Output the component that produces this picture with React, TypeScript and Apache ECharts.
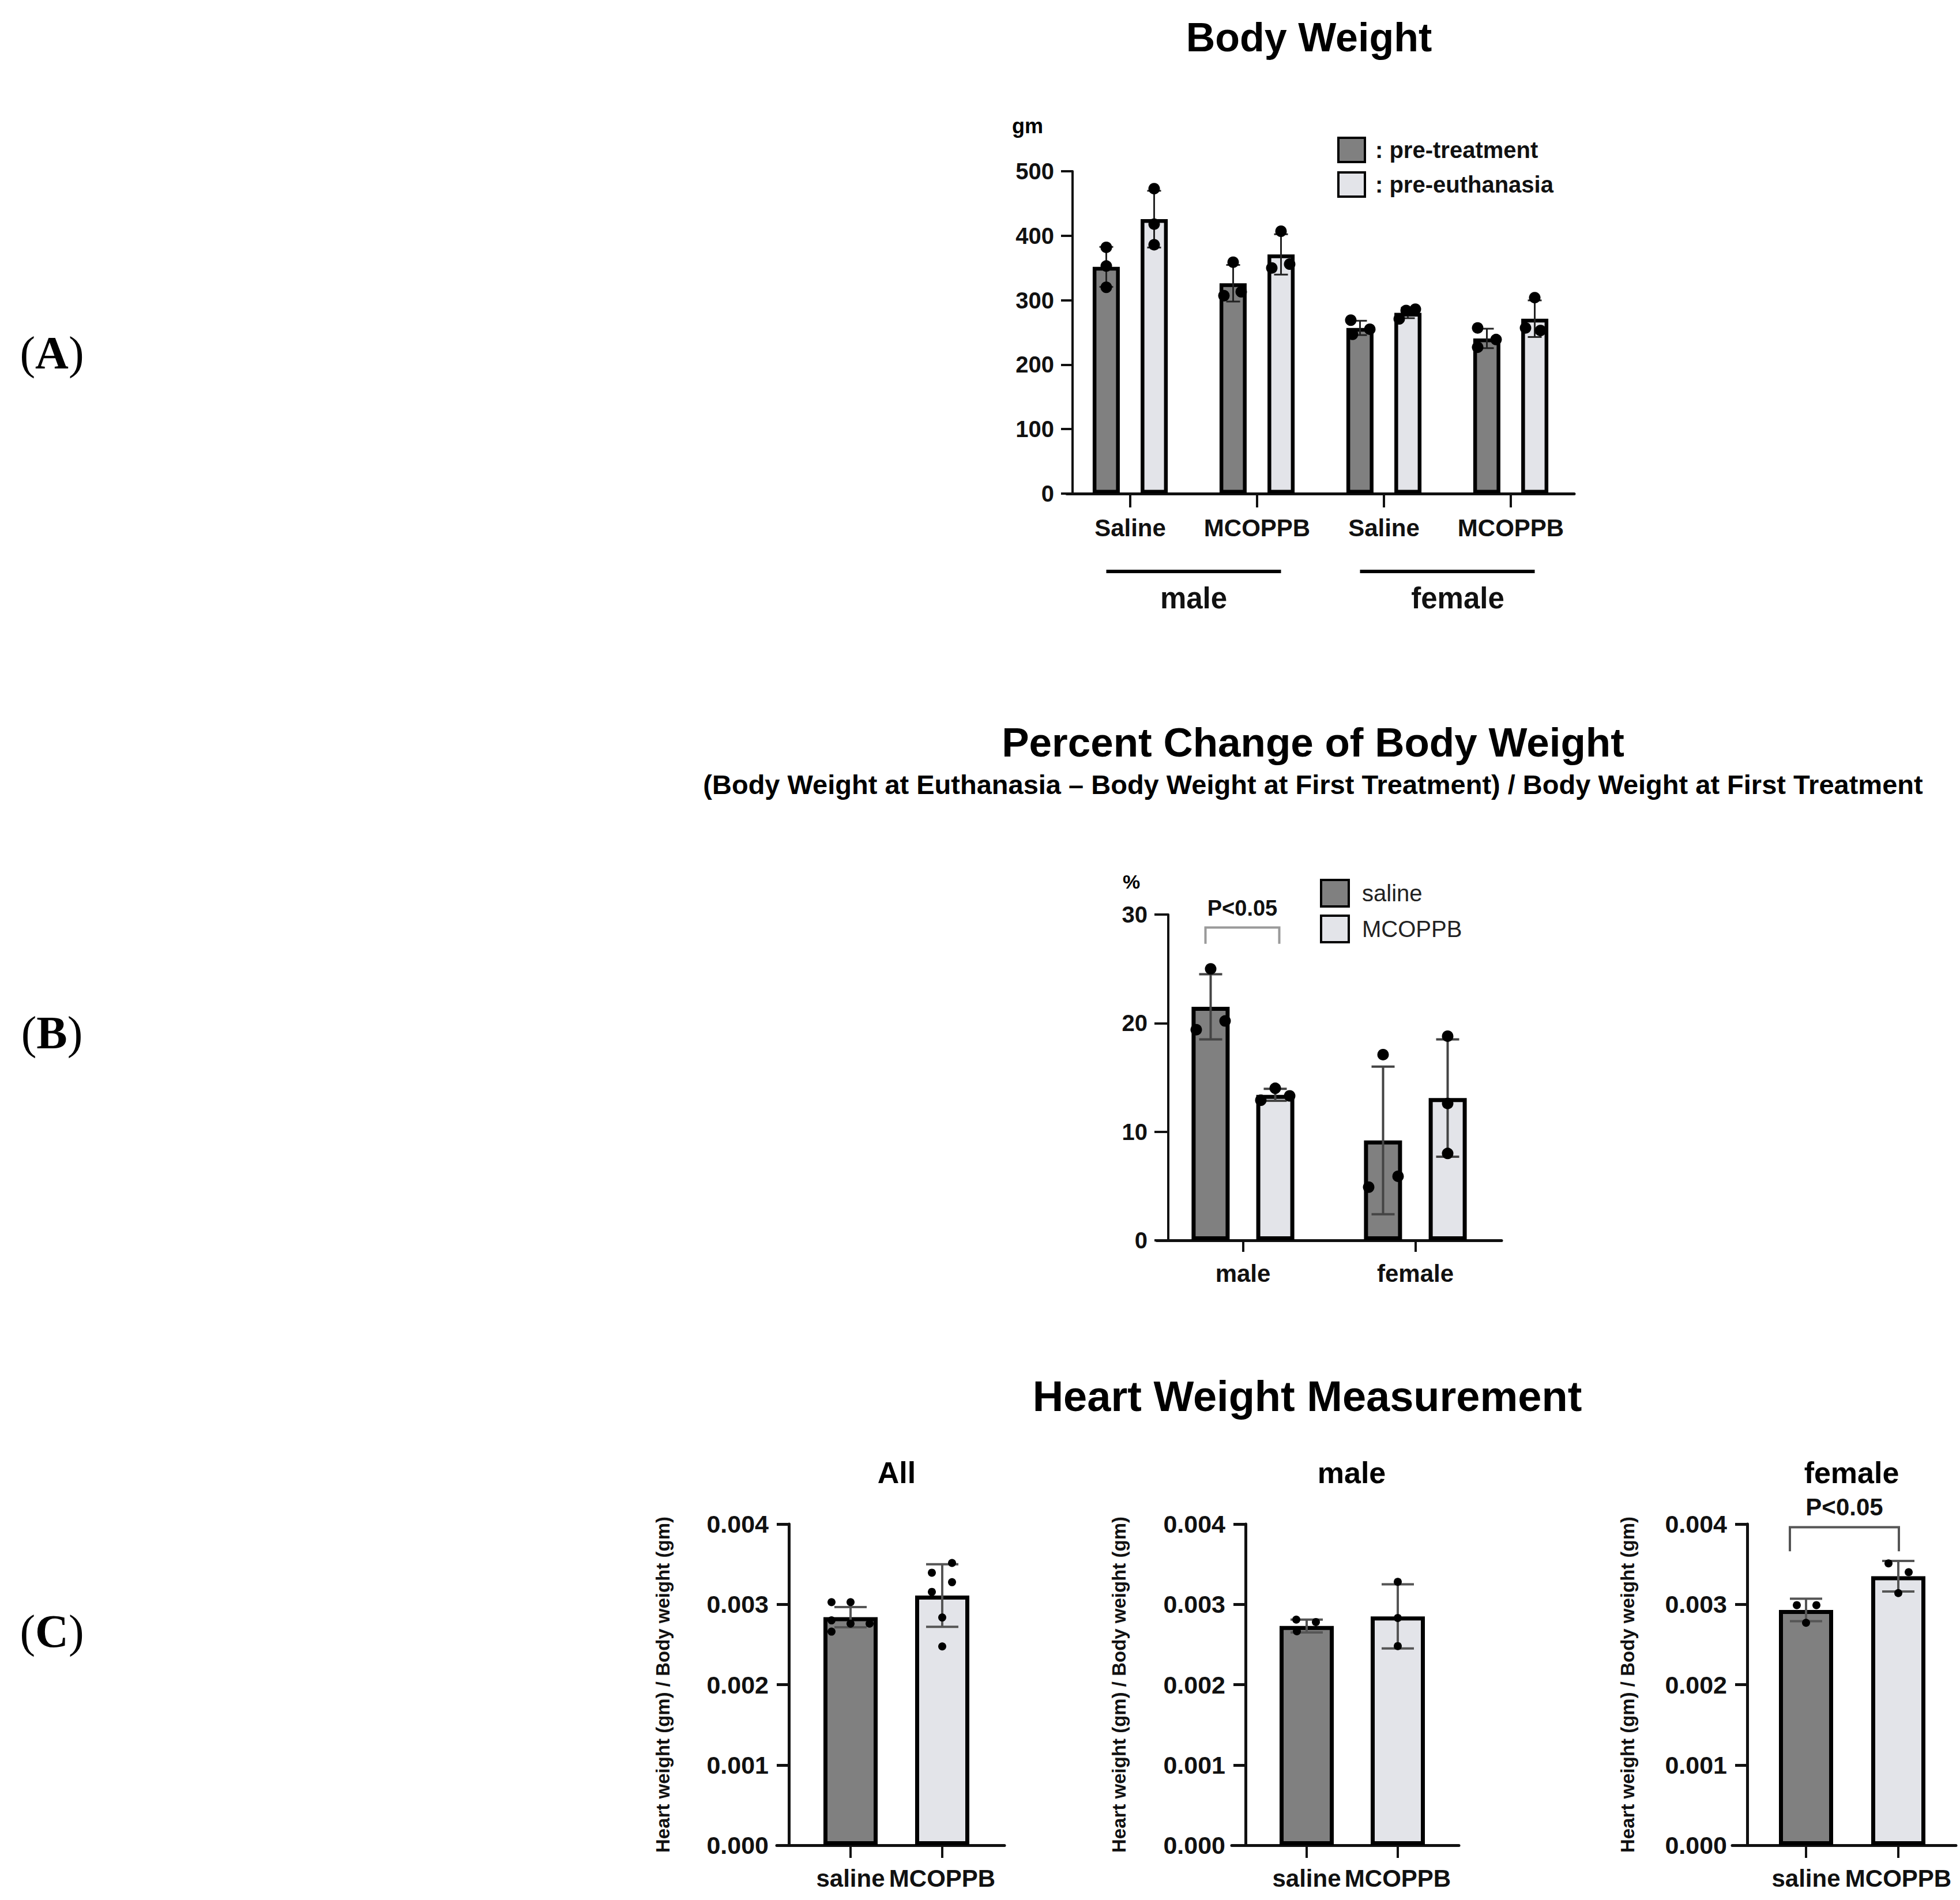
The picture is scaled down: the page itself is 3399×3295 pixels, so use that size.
import React, { useEffect, useRef } from "react";
import * as echarts from "echarts";

// ---------------- DATA ----------------
// Panel A: Body Weight (gm)
const A_CATEGORIES = ["Saline", "MCOPPB", "Saline", "MCOPPB"];
const A_GROUP_LABELS = ["male", "female"];
const A_GROUP_SPANS = [[0, 1], [2, 3]];
const A_SERIES_NAMES = ["pre-treatment", "pre-euthanasia"];
const A_Y_MAX = 500;
const A_Y_STEP = 100;
const A_PRE_MEAN = [351.7, 326.3, 257.0, 240.7];
const A_PRE_SD = [31.0, 28.4, 11.1, 15.1];
const A_PRE_POINTS = [[382, 353, 320], [359, 307, 313], [269, 247, 255], [257, 227, 239]];
const A_EUTH_MEAN = [425.7, 371.0, 280.3, 271.3];
const A_EUTH_SD = [44.0, 31.3, 8.2, 28.4];
const A_EUTH_POINTS = [[473, 418, 386], [407, 350, 356], [271, 284, 286], [304, 257, 253]];

// Panel B: Percent change of body weight (%)
const B_CATEGORIES = ["male", "female"];
const B_SERIES_NAMES = ["saline", "MCOPPB"];
const B_Y_MAX = 30;
const B_Y_STEP = 10;
const B_SALINE_MEAN = [21.5, 9.2];
const B_SALINE_SD = [3.0, 6.8];
const B_SALINE_POINTS = [[25.0, 19.4, 20.2], [17.1, 4.9, 5.9]];
const B_MCOPPB_MEAN = [13.4, 13.1];
const B_MCOPPB_SD = [0.55, 5.4];
const B_MCOPPB_POINTS = [[14.0, 12.9, 13.3], [18.8, 12.6, 8.0]];
const SIG_LABEL = "P<0.05";

// Panel C: Heart weight / body weight
const C_TITLES = ["All", "male", "female"];
const C_CATEGORIES = ["saline", "MCOPPB"];
const C_Y_NAME = "Heart weight (gm) / Body weight (gm)";
const C_Y_MAX = 0.004;
const C_Y_STEP = 0.001;
const C_ALL_MEAN = [0.00284, 0.00311];
const C_ALL_SD = [0.000125, 0.00039];
const C_ALL_SALINE_POINTS = [0.003027, 0.003027, 0.0028, 0.00276, 0.00276, 0.00266];
const C_ALL_MCOPPB_POINTS = [0.003515, 0.003394, 0.003276, 0.003155, 0.002836, 0.002476];
const C_MALE_MEAN = [0.00273, 0.00285];
const C_MALE_SD = [0.00008, 0.0004];
const C_MALE_SALINE_POINTS = [0.00281, 0.00278, 0.002665];
const C_MALE_MCOPPB_POINTS = [0.00328, 0.00283, 0.00248];
const C_FEMALE_MEAN = [0.00293, 0.00335];
const C_FEMALE_SD = [0.00014, 0.00019];
const C_FEMALE_SALINE_POINTS = [0.00299, 0.00299, 0.00277];
const C_FEMALE_MCOPPB_POINTS = [0.00351, 0.0034, 0.00314];

// ---------------- STYLE ----------------
const FONT = "'Liberation Sans', Arial, Helvetica, sans-serif";
const SERIF = "'Liberation Serif', 'Times New Roman', serif";
const DARK = "#808080";
const LIGHT = "#e3e4e9";
const INK = "#111111";

// horizontal jitter of individual dots (px)
const A_PRE_JITTER = [[0, 0, 0], [0, -16, 14], [-16, -13, 17], [-16, -16, 16]];
const A_EUTH_JITTER = [[0, 0, 0], [0, -16, 15], [-15, -3, 13], [0, -16, 10]];
const B_SALINE_JITTER = [[0, -25, 25], [0, -25, 26]];
const B_MCOPPB_JITTER = [[0, -25, 25], [0, 0, 0]];
const C_JITTER = [
  [[-33, 0, -33, 0, 33, -33], [17, -18, 17, -18, 0, 0]],
  [[-18, 16, -17], [0, 0, 0]],
  [[-16, 18, 0], [-17, 18, 0]],
];

function errorBarSeries(xi: number, yi: number, means: number[], sds: number[], offset: number, capHalf: number, color: string, width: number) {
  return {
    type: "custom",
    xAxisIndex: xi,
    yAxisIndex: yi,
    clip: false,
    z: 3,
    silent: true,
    data: means.map((m, i) => [i, m, sds[i]]),
    encode: { x: 0, y: 1 },
    renderItem: (params: any, api: any) => {
      const ci = api.value(0);
      const m = api.value(1);
      const sd = api.value(2);
      const pt = api.coord([ci, m + sd]);
      const pb = api.coord([ci, m - sd]);
      const x = pt[0] + offset;
      const st = { stroke: color, lineWidth: width };
      return {
        type: "group",
        children: [
          { type: "line", shape: { x1: x, y1: pt[1], x2: x, y2: pb[1] }, style: st },
          { type: "line", shape: { x1: x - capHalf, y1: pt[1], x2: x + capHalf, y2: pt[1] }, style: st },
          { type: "line", shape: { x1: x - capHalf, y1: pb[1], x2: x + capHalf, y2: pb[1] }, style: st },
        ],
      };
    },
  };
}

function dotSeries(xi: number, yi: number, points: number[][], offsets: number[], jitter: number[][], size: number) {
  const data: any[] = [];
  points.forEach((arr, ci) =>
    arr.forEach((v, k) => data.push({ value: [ci, v], symbolOffset: [offsets[ci] + jitter[ci][k], 0] }))
  );
  return {
    type: "scatter",
    xAxisIndex: xi,
    yAxisIndex: yi,
    symbol: "circle",
    symbolSize: size,
    itemStyle: { color: "#000", opacity: 1 },
    z: 4,
    silent: true,
    data,
  };
}

function yAxisCfg(gridIndex: number, max: number, step: number, offset: number, fontSize: number, margin: number, tickLen: number, lineW: number, fmt?: (v: number) => string, name?: string, nameGap?: number) {
  return {
    gridIndex,
    type: "value",
    min: 0,
    max,
    interval: step,
    offset,
    name: name || "",
    nameLocation: "middle",
    nameGap: nameGap || 0,
    nameTextStyle: { fontFamily: FONT, fontWeight: "bold", fontSize: 33, color: INK },
    axisLine: { show: true, lineStyle: { color: INK, width: lineW } },
    axisTick: { show: true, length: tickLen, lineStyle: { color: INK, width: lineW } },
    axisLabel: { margin, fontFamily: FONT, fontWeight: "bold", fontSize, color: INK, formatter: fmt },
    splitLine: { show: false },
  };
}

function xAxisCfg(gridIndex: number, data: string[], margin: number, fontSize: number, tickLen: number, showLine: boolean) {
  return {
    gridIndex,
    type: "category",
    data,
    axisLine: { show: showLine, onZero: false, lineStyle: { color: INK, width: 5 } },
    axisTick: { show: true, alignWithLabel: true, length: tickLen, lineStyle: { color: INK, width: 4 } },
    axisLabel: { interval: 0, margin, fontFamily: FONT, fontWeight: "bold", fontSize, color: INK },
    splitLine: { show: false },
  };
}

function buildOption() {
  const grids: any[] = [];
  const xAxes: any[] = [];
  const yAxes: any[] = [];
  const series: any[] = [];

  // ----- Panel A -----
  grids.push({ left: 1850, top: 297, width: 880, height: 559 });
  xAxes.push(xAxisCfg(0, A_CATEGORIES, 38, 42, 24, true));
  yAxes.push(yAxisCfg(0, A_Y_MAX, A_Y_STEP, -10, 40, 32, 20, 4));
  const aBarW = 47;
  const aOff = 41.5;
  series.push(
    { type: "bar", name: A_SERIES_NAMES[0], xAxisIndex: 0, yAxisIndex: 0, data: A_PRE_MEAN, barWidth: aBarW, barGap: "77%", z: 2, silent: true, itemStyle: { color: DARK, borderColor: "#000", borderWidth: 6.5 } },
    { type: "bar", name: A_SERIES_NAMES[1], xAxisIndex: 0, yAxisIndex: 0, data: A_EUTH_MEAN, barWidth: aBarW, barGap: "77%", z: 2, silent: true, itemStyle: { color: LIGHT, borderColor: "#000", borderWidth: 6.5 } },
    errorBarSeries(0, 0, A_PRE_MEAN, A_PRE_SD, -aOff, 12, "#222", 3),
    errorBarSeries(0, 0, A_EUTH_MEAN, A_EUTH_SD, aOff, 12, "#222", 3),
    dotSeries(0, 0, A_PRE_POINTS, A_PRE_POINTS.map(() => -aOff), A_PRE_JITTER, 20),
    dotSeries(0, 0, A_EUTH_POINTS, A_EUTH_POINTS.map(() => aOff), A_EUTH_JITTER, 20),
    {
      type: "custom",
      xAxisIndex: 0,
      yAxisIndex: 0,
      clip: false,
      silent: true,
      data: A_GROUP_SPANS.map((s) => [s[0], s[1]]),
      encode: { x: 0, y: 1 },
      renderItem: (params: any, api: any) => {
        const p0 = api.coord([api.value(0), 0]);
        const p1 = api.coord([api.value(1), 0]);
        const x0 = p0[0] - aOff;
        const x1 = p1[0] + aOff;
        const base = p0[1];
        const shift = params.dataIndex === 1 ? 18 : 0;
        return {
          type: "group",
          children: [
            { type: "line", shape: { x1: x0, y1: base + 135, x2: x1, y2: base + 135 }, style: { stroke: "#000", lineWidth: 6 } },
            {
              type: "text",
              x: (x0 + x1) / 2 + shift,
              y: base + 181,
              style: { text: A_GROUP_LABELS[params.dataIndex], fontFamily: FONT, fontWeight: "bold", fontSize: 51, fill: INK, align: "center", verticalAlign: "middle", textAlign: "center", textVerticalAlign: "middle" },
            },
          ],
        };
      },
    }
  );

  // ----- Panel B -----
  grids.push({ left: 2006, top: 1586, width: 598, height: 565 });
  xAxes.push(xAxisCfg(1, B_CATEGORIES, 36, 42, 20, true));
  yAxes.push(yAxisCfg(1, B_Y_MAX, B_Y_STEP, -20, 40, 36, 24, 4));
  const bBarW = 66;
  const bOff = 56;
  series.push(
    { type: "bar", name: B_SERIES_NAMES[0], xAxisIndex: 1, yAxisIndex: 1, data: B_SALINE_MEAN, barWidth: bBarW, barGap: "70%", z: 2, silent: true, itemStyle: { color: DARK, borderColor: "#000", borderWidth: 7 } },
    { type: "bar", name: B_SERIES_NAMES[1], xAxisIndex: 1, yAxisIndex: 1, data: B_MCOPPB_MEAN, barWidth: bBarW, barGap: "70%", z: 2, silent: true, itemStyle: { color: LIGHT, borderColor: "#000", borderWidth: 7 } },
    errorBarSeries(1, 1, B_SALINE_MEAN, B_SALINE_SD, -bOff, 20, "#444", 4),
    errorBarSeries(1, 1, B_MCOPPB_MEAN, B_MCOPPB_SD, bOff, 20, "#444", 4),
    dotSeries(1, 1, B_SALINE_POINTS, B_SALINE_POINTS.map(() => -bOff), B_SALINE_JITTER, 20),
    dotSeries(1, 1, B_MCOPPB_POINTS, B_MCOPPB_POINTS.map(() => bOff), B_MCOPPB_JITTER, 20),
    {
      type: "custom",
      xAxisIndex: 1,
      yAxisIndex: 1,
      clip: false,
      silent: true,
      data: [[0, 28.8]],
      encode: { x: 0, y: 1 },
      renderItem: (params: any, api: any) => {
        const c = api.coord([api.value(0), api.value(1)]);
        const low = api.coord([api.value(0), 27.3])[1];
        const txt = api.coord([api.value(0), 30.6])[1];
        const x0 = c[0] - 65;
        const x1 = c[0] + 63;
        return {
          type: "group",
          children: [
            { type: "polyline", shape: { points: [[x0, low], [x0, c[1]], [x1, c[1]], [x1, low]] }, style: { stroke: "#9a9a9a", lineWidth: 4, fill: null } },
            { type: "text", x: (x0 + x1) / 2, y: txt, style: { text: SIG_LABEL, fontFamily: FONT, fontWeight: "bold", fontSize: 38, fill: INK, align: "center", verticalAlign: "middle", textAlign: "center", textVerticalAlign: "middle" } },
          ],
        };
      },
    }
  );

  // ----- Panel C -----
  const cMeans = [C_ALL_MEAN, C_MALE_MEAN, C_FEMALE_MEAN];
  const cSds = [C_ALL_SD, C_MALE_SD, C_FEMALE_SD];
  const cPoints = [
    [C_ALL_SALINE_POINTS, C_ALL_MCOPPB_POINTS],
    [C_MALE_SALINE_POINTS, C_MALE_MCOPPB_POINTS],
    [C_FEMALE_SALINE_POINTS, C_FEMALE_MCOPPB_POINTS],
  ];
  const cDataGrid = [
    { left: 1395.5, width: 318, yOff: 27.5, nameGap: 202 },
    { left: 2187, width: 316, yOff: 27, nameGap: 203 },
    { left: 3052, width: 320, yOff: 22, nameGap: 191 },
  ];
  const cFrameGrid = [
    { left: 1347, width: 395 },
    { left: 2136, width: 394 },
    { left: 3004, width: 388 },
  ];
  const cTop = 2643;
  const cH = 557;
  for (let k = 0; k < 3; k++) {
    const gi = grids.length;
    grids.push({ left: cDataGrid[k].left, top: cTop, width: cDataGrid[k].width, height: cH });
    xAxes.push(xAxisCfg(gi, C_CATEGORIES, 36, 42, 22, false));
    yAxes.push(yAxisCfg(gi, C_Y_MAX, C_Y_STEP, cDataGrid[k].yOff, 43, 35, 21, 5, (v: number) => v.toFixed(3), C_Y_NAME, cDataGrid[k].nameGap));
    series.push(
      {
        type: "bar",
        name: "heart-" + C_TITLES[k],
        xAxisIndex: gi,
        yAxisIndex: gi,
        barWidth: 94,
        z: 2,
        silent: true,
        itemStyle: { borderColor: "#000", borderWidth: 7 },
        data: cMeans[k].map((m, i) => ({ value: m, itemStyle: { color: i === 0 ? DARK : LIGHT } })),
      },
      errorBarSeries(gi, gi, cMeans[k], cSds[k], 0, 28, "#555", 4),
      dotSeries(gi, gi, cPoints[k], [0, 0], C_JITTER[k], 14)
    );
    if (k === 2) {
      series.push({
        type: "custom",
        xAxisIndex: gi,
        yAxisIndex: gi,
        clip: false,
        silent: true,
        data: [[0, 0.00396]],
        encode: { x: 0, y: 1 },
        renderItem: (params: any, api: any) => {
          const c0 = api.coord([0, api.value(1)]);
          const c1 = api.coord([1, api.value(1)]);
          const low = api.coord([0, 0.00366])[1];
          const txt = api.coord([0, 0.00421])[1];
          const x0 = c0[0] - 28;
          const x1 = c1[0] + 1;
          return {
            type: "group",
            children: [
              { type: "polyline", shape: { points: [[x0, low], [x0, c0[1]], [x1, c0[1]], [x1, low]] }, style: { stroke: "#555", lineWidth: 4, fill: null } },
              { type: "text", x: (x0 + x1) / 2, y: txt, style: { text: SIG_LABEL, fontFamily: FONT, fontWeight: "bold", fontSize: 42, fill: INK, align: "center", verticalAlign: "middle", textAlign: "center", textVerticalAlign: "middle" } },
            ],
          };
        },
      });
    }
  }
  // frame grids carrying the long baseline of panel C
  for (let k = 0; k < 3; k++) {
    const gi = grids.length;
    grids.push({ left: cFrameGrid[k].left, top: cTop, width: cFrameGrid[k].width, height: cH });
    xAxes.push({
      gridIndex: gi,
      type: "value",
      min: 0,
      max: 1,
      axisLine: { show: true, onZero: false, lineStyle: { color: INK, width: 5 } },
      axisTick: { show: false },
      axisLabel: { show: false },
      splitLine: { show: false },
    });
    yAxes.push({ gridIndex: gi, type: "value", min: 0, max: 1, show: false });
  }

  const titleStyle = (text: string, x: number, y: number, size: number, weight: string = "bold") => ({
    type: "text",
    x,
    y,
    style: { text, fontFamily: FONT, fontWeight: weight, fontSize: size, fill: "#000", align: "center", verticalAlign: "middle", textAlign: "center", textVerticalAlign: "middle" },
  });
  const panelLabel = (letter: string, y: number) => ({
    type: "text",
    x: 90,
    y,
    style: {
      text: "({b|" + letter + "})",
      fontFamily: SERIF,
      fontSize: 80,
      fill: "#000",
      align: "center",
      verticalAlign: "middle",
      textAlign: "center",
      textVerticalAlign: "middle",
      rich: { b: { fontFamily: SERIF, fontSize: 80, fontWeight: "bold", fill: "#000" } },
    },
  });

  return {
    animation: false,
    backgroundColor: "#ffffff",
    grid: grids.map((g) => ({ ...g, show: false, containLabel: false })),
    xAxis: xAxes,
    yAxis: yAxes,
    legend: [
      {
        data: A_SERIES_NAMES,
        orient: "vertical",
        left: 2319,
        top: 237,
        padding: 0,
        itemWidth: 46,
        itemHeight: 42,
        itemGap: 14,
        icon: "rect",
        selectedMode: false,
        formatter: (n: string) => ": " + n,
        itemStyle: { borderColor: "#000", borderWidth: 4 },
        textStyle: { fontFamily: FONT, fontWeight: "bold", fontSize: 40, color: INK, padding: [0, 0, 0, 13] },
      },
      {
        data: B_SERIES_NAMES,
        orient: "vertical",
        left: 2289,
        top: 1524,
        padding: 0,
        itemWidth: 48,
        itemHeight: 46,
        itemGap: 12,
        icon: "rect",
        selectedMode: false,
        itemStyle: { borderColor: "#000", borderWidth: 4 },
        textStyle: { fontFamily: FONT, fontWeight: "normal", fontSize: 40, color: "#222", padding: [0, 0, 0, 18] },
      },
    ],
    graphic: {
      elements: [
        panelLabel("A", 612),
        panelLabel("B", 1791),
        panelLabel("C", 2829),
        titleStyle("Body Weight", 2270, 65, 70),
        titleStyle("gm", 1782, 218, 36),
        titleStyle("Percent Change of Body Weight", 2277, 1287, 71),
        titleStyle("(Body Weight at Euthanasia \u2013 Body Weight at First Treatment) / Body Weight at First Treatment", 2277, 1360, 47),
        titleStyle("%", 1962, 1529, 34),
        titleStyle("Heart Weight Measurement", 2267, 2421, 74),
        titleStyle(C_TITLES[0], 1555, 2554, 52),
        titleStyle(C_TITLES[1], 2344, 2554, 52),
        titleStyle(C_TITLES[2], 3211, 2554, 52),
      ],
    },
    series,
  };
}

export default function App() {
  const ref = useRef<HTMLDivElement>(null);
  useEffect(() => {
    if (!ref.current) return;
    const chart = echarts.init(ref.current, null, { renderer: "svg" });
    chart.setOption(buildOption() as any);
    return () => chart.dispose();
  }, []);
  return (
    <div
      ref={ref}
      style={{ position: "fixed", left: 0, top: 0, width: 3399, height: 3295, background: "#fff" }}
    />
  );
}
